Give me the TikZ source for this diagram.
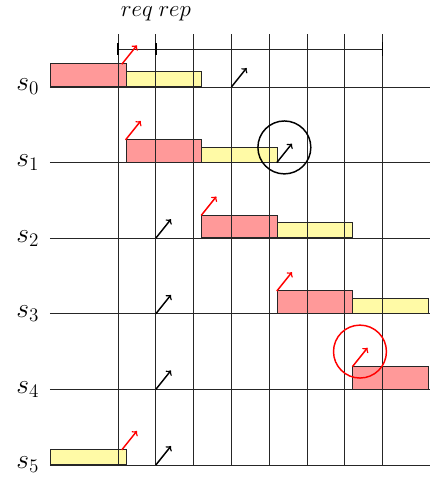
\documentclass[tikz,border=0pt]{standalone}
\begin{document}
\begin{tikzpicture}[x=1cm,y=1cm,
  gridline/.style={line width=0.6pt, black!85},
  tickline/.style={line width=1.2pt, black},
  reqbox/.style={draw=black!85, line width=0.6pt, fill=red!40, minimum width=2cm, minimum height=0.6cm, inner sep=0pt, anchor=south west},
  repbox/.style={draw=black!85, line width=0.6pt, fill=yellow!35, minimum width=2cm, minimum height=0.4cm, inner sep=0pt, anchor=south west},
  redarr/.style={->, red, line width=1.1pt},
  blkarr/.style={->, black, line width=1.1pt},
  lab/.style={font=\huge, inner sep=1pt},
  toplab/.style={font=\LARGE, anchor=base, inner sep=0pt}]
\useasboundingbox (-3.122,-0.344) rectangle (8.254,12.30);
% boxes
\node[reqbox] (r0) at (-1.8,10) {};
\node[repbox] (y0) at (0.2,10) {};
\node[reqbox] (r1) at (0.2,8) {};
\node[repbox] (y1) at (2.2,8) {};
\node[reqbox] (r2) at (2.2,6) {};
\node[repbox] (y2) at (4.2,6) {};
\node[reqbox] (r3) at (4.2,4) {};
\node[repbox] (y3) at (6.2,4) {};
\node[reqbox] (r4) at (6.2,2) {};
\node[repbox] (y5) at (-1.8,0) {};
% grid
\foreach \i in {0,...,5} {
  \coordinate (hl\i) at (-1.8,{2*\i});
  \coordinate (hr\i) at (8.254,{2*\i});
  \draw[gridline] (hl\i) -- (hr\i);
}
\foreach \k in {0,...,7} {
  \coordinate (vb\k) at (\k,0);
  \coordinate (vt\k) at (\k,11.4);
  \draw[gridline] (vb\k) -- (vt\k);
}
% ruler
\coordinate (ra) at (0,11);
\coordinate (rb) at (1,11);
\coordinate (rc) at (7,11);
\coordinate (ta1) at (0,11.15);  \coordinate (ta2) at (0,10.85);
\coordinate (tb1) at (1,11.15);  \coordinate (tb2) at (1,10.85);
\coordinate (tc1) at (7,11.18);  \coordinate (tc2) at (7,10.82);
\draw[gridline] (ra) -- (rc);
\draw[tickline] (ta1) -- (ta2);
\draw[tickline] (tb1) -- (tb2);
\draw[tickline] (tc1) -- (tc2);
\node[toplab] (treq) at (0.5,11.87) {$req$};
\node[toplab] (trep) at (1.5,11.87) {$rep$};
% labels
\node[lab] (s0) at (-2.39,10) {$s_0$};
\node[lab] (s1) at (-2.39,8) {$s_1$};
\node[lab] (s2) at (-2.39,6) {$s_2$};
\node[lab] (s3) at (-2.39,4) {$s_3$};
\node[lab] (s4) at (-2.39,2) {$s_4$};
\node[lab] (s5) at (-2.39,0) {$s_5$};
% red arrows
\coordinate (ra0) at (0.1,10.6);
\coordinate (ra1) at (0.2,8.6);
\coordinate (ra2) at (2.2,6.6);
\coordinate (ra3) at (4.2,4.6);
\coordinate (ra4) at (6.2,2.6);
\coordinate (ra5) at (0.1,0.4);
\foreach \a in {ra0,ra1,ra2,ra3,ra4,ra5} { \draw[redarr] (\a) -- ++(0.4,0.5); }
% black arrows
\coordinate (ba0) at (3,10);
\coordinate (ba1) at (4.2,8);
\coordinate (ba2) at (1,6);
\coordinate (ba3) at (1,4);
\coordinate (ba4) at (1,2);
\coordinate (ba5) at (1,0);
\foreach \a in {ba0,ba1,ba2,ba3,ba4,ba5} { \draw[blkarr] (\a) -- ++(0.4,0.5); }
% circles
\node[draw=black, line width=1.1pt, circle, minimum size=1.4cm, inner sep=0pt] (c1) at (4.4,8.4) {};
\node[draw=red, line width=1.1pt, circle, minimum size=1.4cm, inner sep=0pt] (c4) at (6.4,3.0) {};
\end{tikzpicture}
\end{document}
